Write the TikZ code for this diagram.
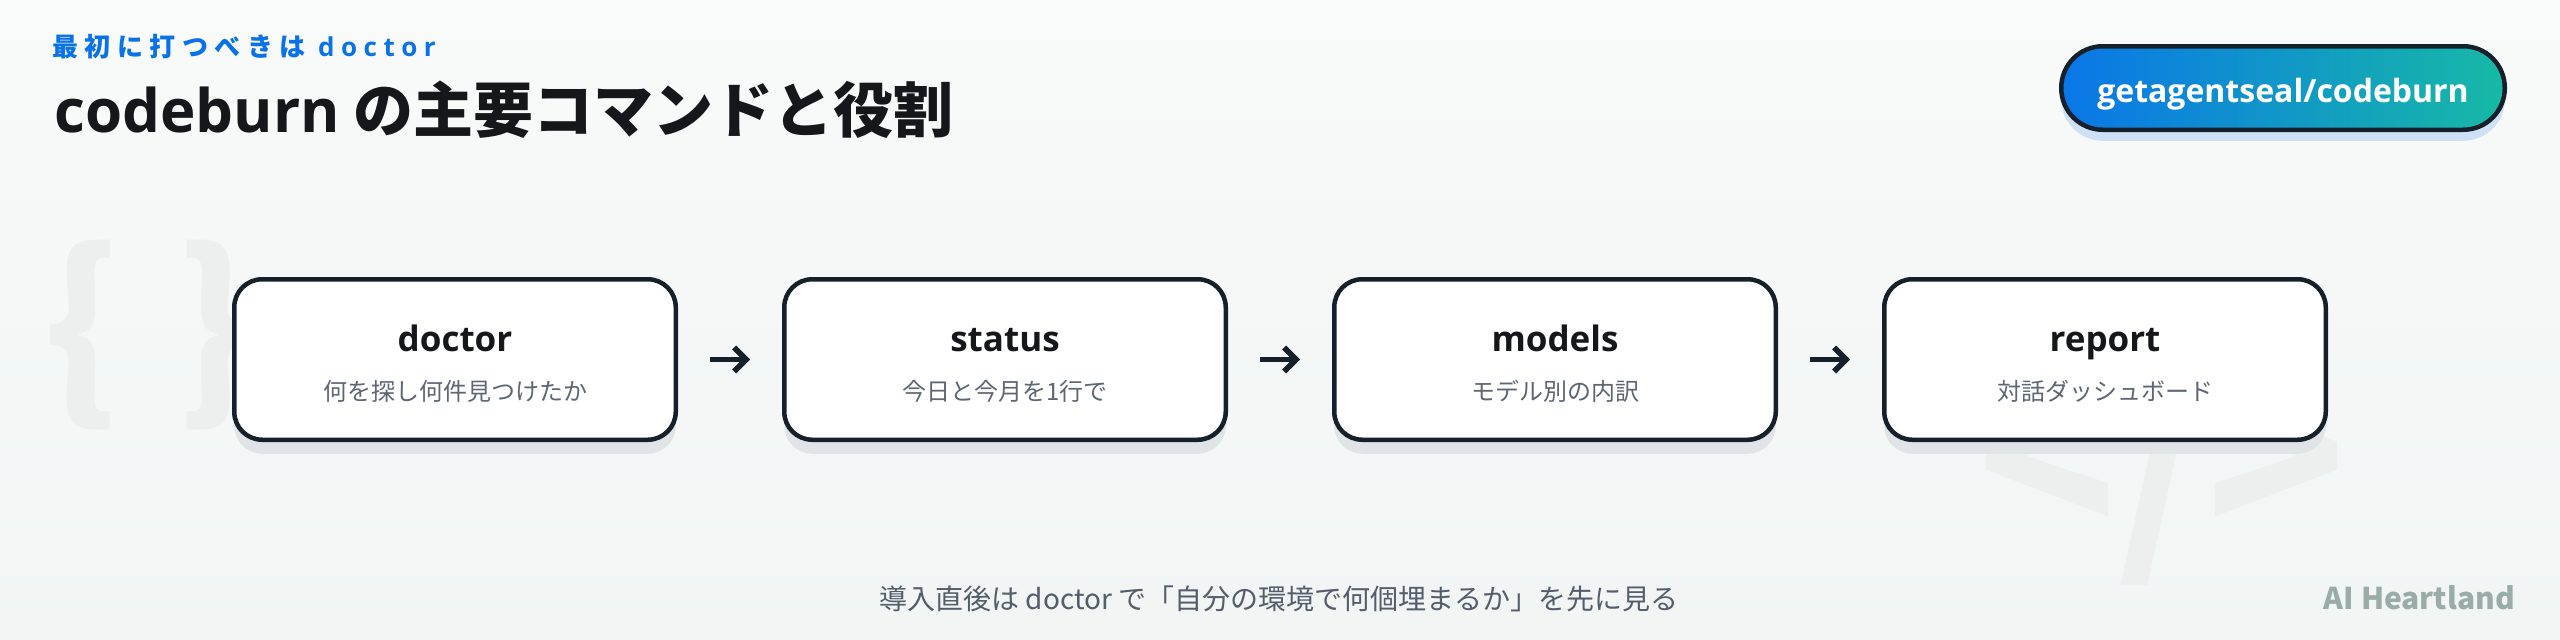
\documentclass[tikz,border=0pt]{standalone}
\usepackage{fontspec}
\setmainfont{Noto Sans CJK JP}
\newfontfamily\lat{Open Sans}
\newfontfamily\jpsp[LetterSpace=25]{Noto Sans CJK JP}
\newfontfamily\latsp[LetterSpace=25]{Open Sans}
\usetikzlibrary{arrows.meta,shadows}
\definecolor{bgtop}{HTML}{F9FAFA}
\definecolor{bgbot}{HTML}{F1F5F4}
\definecolor{accent}{HTML}{0A72E8}
\definecolor{ink}{HTML}{15171B}
\definecolor{border}{HTML}{16202B}
\definecolor{shadowc}{HTML}{E1E4E6}
\definecolor{descc}{HTML}{5D6675}
\definecolor{notec}{HTML}{535D6B}
\definecolor{brandc}{HTML}{9AACA7}
\definecolor{decoc}{HTML}{EDEFEF}
\definecolor{gradl}{HTML}{0A76E8}
\definecolor{gradr}{HTML}{17B9A6}
\definecolor{badgesh}{HTML}{CDE0F6}
\tikzset{
  cmdbox/.style={draw=border, line width=4.5pt, fill=white, rounded corners=28pt,
    minimum width=441.5pt, minimum height=160.5pt, inner sep=0pt,
    drop shadow={shadow xshift=0pt, shadow yshift=-14pt, fill=shadowc, opacity=1}},
  cmdtitle/.style={anchor=base, text=ink, font=\lat\bfseries\fontsize{35}{35}\selectfont, inner sep=0pt},
  cmddesc/.style={anchor=base, text=descc, font=\fontsize{24}{24}\selectfont, inner sep=0pt},
  flow/.style={draw=border, line width=5.5pt, -{Straight Barb[length=12pt,width=24pt]},
    shorten <=32pt, shorten >=32pt},
  deco/.style={text=decoc, inner sep=0pt},
}
\begin{document}
\begin{tikzpicture}[x=1pt,y=-1pt]
\shade[top color=bgtop,bottom color=bgbot] (0,0) rectangle (2560,640);
\useasboundingbox (0,0) rectangle (2560,640);
% background decorations
\node[deco, anchor=base west, font=\bfseries\fontsize{193}{193}\selectfont] (braces) at (43,396) {\{\hspace{56pt}\}};
\node[deco, anchor=base, font=\bfseries\fontsize{230}{230}\selectfont] (tag) at (2162,543) {</>};
% header
\node[anchor=base west, text=accent, font=\jpsp\bfseries\fontsize{26}{26}\selectfont, inner sep=0pt] (kicker) at (52,56) {最初に打つべきは {\latsp\bfseries doctor}};
\node[anchor=base west, text=ink, font=\bfseries\fontsize{60}{60}\selectfont, inner sep=0pt] (title) at (54,132) {{\lat\bfseries codeburn} の主要コマンドと役割};
% badge
\node[draw=border, line width=4.5pt, left color=gradl, right color=gradr, rounded corners=41.5pt,
  minimum width=443.5pt, minimum height=83.5pt, inner sep=0pt,
  drop shadow={shadow xshift=0pt, shadow yshift=-11pt, fill=badgesh, opacity=1}] (badge) at (2283,88) {};
\node[anchor=base, text=white, font=\lat\bfseries\fontsize{32}{32}\selectfont, inner sep=0pt] (badgetxt) at (2283,102) {getagentseal/codeburn};
% boxes
\node[cmdbox] (b1) at (455,359.5) {};
\node[cmdbox] (b2) at (1005,359.5) {};
\node[cmdbox] (b3) at (1555,359.5) {};
\node[cmdbox] (b4) at (2105,359.5) {};
\node[cmdtitle] (t1) at (455,351) {doctor};
\node[cmddesc] (d1) at (455,400) {何を探し何件見つけたか};
\node[cmdtitle] (t2) at (1005,351) {status};
\node[cmddesc] (d2) at (1005,400) {今日と今月を1行で};
\node[cmdtitle] (t3) at (1555,351) {models};
\node[cmddesc] (d3) at (1555,400) {モデル別の内訳};
\node[cmdtitle] (t4) at (2105,351) {report};
\node[cmddesc] (d4) at (2105,400) {対話ダッシュボード};
\draw[flow] (b1) -- (b2);
\draw[flow] (b2) -- (b3);
\draw[flow] (b3) -- (b4);
% footer
\node[anchor=base, text=notec, font=\fontsize{28}{28}\selectfont, inner sep=0pt] (note) at (1279,609) {導入直後は doctor で「自分の環境で何個埋まるか」を先に見る};
\node[anchor=base east, text=brandc, font=\bfseries\fontsize{30}{30}\selectfont, inner sep=0pt] (brand) at (2515,609) {AI Heartland};
\end{tikzpicture}
\end{document}
